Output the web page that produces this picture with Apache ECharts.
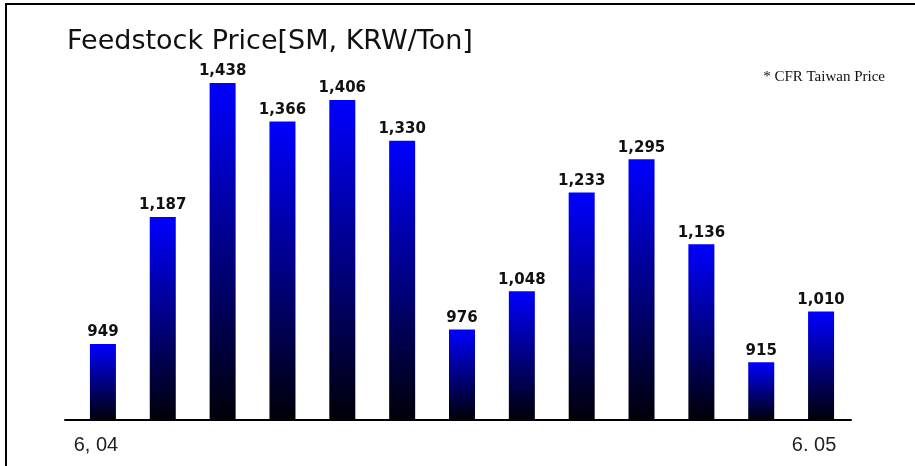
<!DOCTYPE html>
<html>
<head>
<meta charset="utf-8">
<script src="https://cdn.jsdelivr.net/npm/echarts@6/dist/echarts.min.js"></script>
<style>html,body{margin:0;padding:0;background:#fff;}#c{width:915px;height:466px;}</style>
</head>
<body>
<div id="c"></div>
<script>
const categories = ['6, 04','','','','','','','','','','','','6. 05'];
const prices = [949, 1187, 1438, 1366, 1406, 1330, 976, 1048, 1233, 1295, 1136, 915, 1010];
const titleText = 'Feedstock Price[SM, KRW/Ton]';
const noteText = '* CFR Taiwan Price';

const chart = echarts.init(document.getElementById('c'), null, {renderer: 'canvas'});
const fmt = v => v.toLocaleString('en-US');
chart.setOption({
  animation: false,
  backgroundColor: '#fff',
  title: {
    text: titleText,
    left: 62, top: 23,
    textStyle: {fontFamily: 'DejaVu Sans', fontSize: 27, fontWeight: 'normal', color: '#111'}
  },
  graphic: [
    {type: 'line', shape: {x1: 5, y1: 4, x2: 915, y2: 4}, style: {stroke: '#000', lineWidth: 2}},
    {type: 'line', shape: {x1: 6, y1: 3, x2: 6, y2: 466}, style: {stroke: '#000', lineWidth: 2}},
    {type: 'text', right: 30, top: 70, style: {text: noteText, font: '15px "Liberation Serif"', fill: '#111'}}
  ],
  grid: [
    {left: 73, width: 778, bottom: 46, height: 400},
    {left: 65, width: 786, bottom: 46, height: 400}
  ],
  xAxis: [
    {
      type: 'category', data: categories, gridIndex: 0,
      axisLine: {show: false}, axisTick: {show: false},
      axisLabel: {interval: 0, margin: 15, fontFamily: 'Liberation Sans', fontSize: 20, color: '#222', padding: [0, 14, 0, 0]}
    },
    {
      type: 'value', gridIndex: 1, min: 0, max: 1,
      axisLine: {show: true, lineStyle: {color: '#000', width: 2}},
      axisTick: {show: false}, axisLabel: {show: false}, splitLine: {show: false}
    }
  ],
  yAxis: [
    {type: 'value', gridIndex: 0, min: 806.6, max: 1556.1, show: false, splitLine: {show: false}},
    {type: 'value', gridIndex: 1, show: false, splitLine: {show: false}}
  ],
  series: [{
    type: 'bar',
    data: prices,
    barWidth: 26,
    itemStyle: {
      color: new echarts.graphic.LinearGradient(0, 0, 0, 1, [
        {offset: 0, color: '#0000ff'},
        {offset: 1, color: '#000008'}
      ])
    },
    label: {
      show: true, position: 'top', distance: 4,
      formatter: p => fmt(p.value),
      fontFamily: 'DejaVu Sans', fontWeight: 'bold', fontSize: 15, color: '#111'
    }
  }]
});
</script>
</body>
</html>
